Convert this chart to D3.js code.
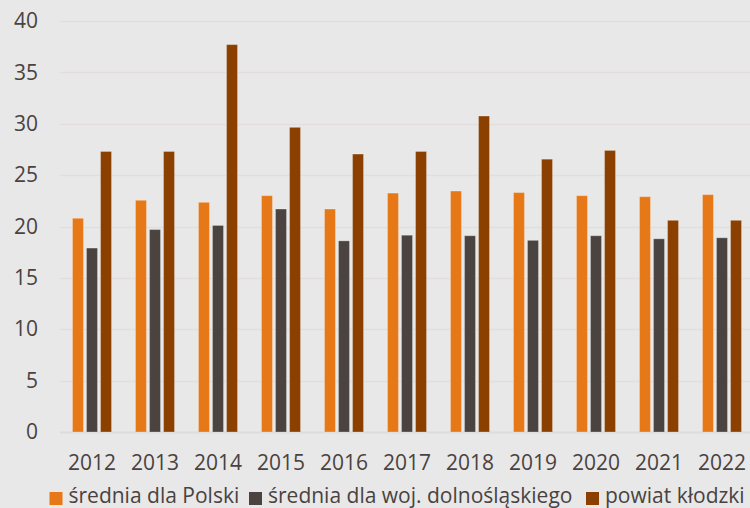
<!DOCTYPE html>
<html lang="pl">
<head>
<meta charset="utf-8">
<script src="https://d3js.org/d3.v7.min.js"></script>
<style>
  body { margin: 0; background: #e8e8e8; overflow: hidden; }
  svg { display: block; font-family: "Open Sans", sans-serif; }
</style>
</head>
<body>
<script>
// data
var years = ["2012","2013","2014","2015","2016","2017","2018","2019","2020","2021","2022"];
var polska = [20.8, 22.55, 22.35, 23.0, 21.7, 23.25, 23.45, 23.3, 23.0, 22.9, 23.1];
var dolnoslaskie = [17.9, 19.7, 20.1, 21.7, 18.6, 19.15, 19.1, 18.65, 19.1, 18.8, 18.9];
var klodzki = [27.3, 27.3, 37.7, 29.65, 27.05, 27.3, 30.75, 26.55, 27.4, 20.6, 20.6];
var seriesNames = ["średnia dla Polski", "średnia dla woj. dolnośląskiego", "powiat kłodzki"];
var colors = ["#e77817", "#4a4340", "#8b4000"];
var yTicks = [0, 5, 10, 15, 20, 25, 30, 35, 40];

var w = 750, h = 508;
var textColor = "#4a4240";

var svg = d3.select("body").append("svg")
  .attr("width", w)
  .attr("height", h);

svg.append("rect").attr("width", w).attr("height", h).attr("fill", "#e8e8e8");

var x = d3.scaleBand()
  .domain(years)
  .range([60.5, 753.5])
  .paddingInner(0)
  .paddingOuter(0);

var y = d3.scaleLinear()
  .domain([0, 40])
  .range([432, 21]);

var inner = d3.scaleBand()
  .domain([0, 1, 2])
  .range([x.bandwidth() / 2 - 19.5, x.bandwidth() / 2 + 19.5])
  .paddingInner(0.22);

// gridlines
svg.append("g")
  .selectAll("line")
  .data(yTicks)
  .enter().append("line")
  .attr("x1", 60)
  .attr("x2", w)
  .attr("y1", function(d) { return Math.round(y(d)) + 0.5; })
  .attr("y2", function(d) { return Math.round(y(d)) + 0.5; })
  .attr("stroke", function(d) { return d === 0 ? "#dcdcdc" : "#e3dddd"; })
  .attr("stroke-width", d => d === 0 ? 2 : 1.5);

// y axis labels
var yAxis = d3.axisLeft(y).tickValues(yTicks).tickSize(0).tickPadding(0);
var gy = svg.append("g")
  .attr("transform", "translate(38,0)")
  .call(yAxis);
gy.select(".domain").remove();
gy.selectAll("text")
  .attr("fill", textColor)
  .style("font-size", "21px")
  .style("font-family", "Open Sans, sans-serif");

// x axis labels
var xAxis = d3.axisBottom(x).tickSize(0).tickPadding(0);
var gx = svg.append("g")
  .attr("transform", "translate(0,455)")
  .call(xAxis);
gx.select(".domain").remove();
gx.selectAll("text")
  .attr("fill", textColor)
  .attr("dy", "0.71em")
  .style("font-size", "21px")
  .style("font-family", "Open Sans, sans-serif");

// bars
var allSeries = [polska, dolnoslaskie, klodzki];
var groups = svg.append("g").selectAll("g")
  .data(years)
  .enter().append("g")
  .attr("transform", function(d) { return "translate(" + x(d) + ",0)"; });

groups.selectAll("rect")
  .data(function(d, i) { return allSeries.map(function(s, k) { return { k: k, v: s[i] }; }); })
  .enter().append("rect")
  .attr("x", function(d) { return inner(d.k); })
  .attr("width", inner.bandwidth())
  .attr("y", function(d) { return y(d.v); })
  .attr("height", function(d) { return y(0) - y(d.v); })
  .attr("fill", function(d) { return colors[d.k]; })
  .attr("stroke", "rgba(255,255,255,0.25)")
  .attr("stroke-width", 1);

// legend
var legendX = [49.5, 249, 586];
var legend = svg.append("g").selectAll("g")
  .data(seriesNames)
  .enter().append("g")
  .attr("transform", function(d, i) { return "translate(" + legendX[i] + ",0)"; });

legend.append("rect")
  .attr("x", 0)
  .attr("y", 492)
  .attr("width", 13)
  .attr("height", 13)
  .attr("fill", function(d, i) { return colors[i]; });

legend.append("text")
  .attr("x", 19)
  .attr("y", 503)
  .attr("fill", textColor)
  .style("font-size", "21px")
  .text(function(d) { return d; });
</script>
</body>
</html>
